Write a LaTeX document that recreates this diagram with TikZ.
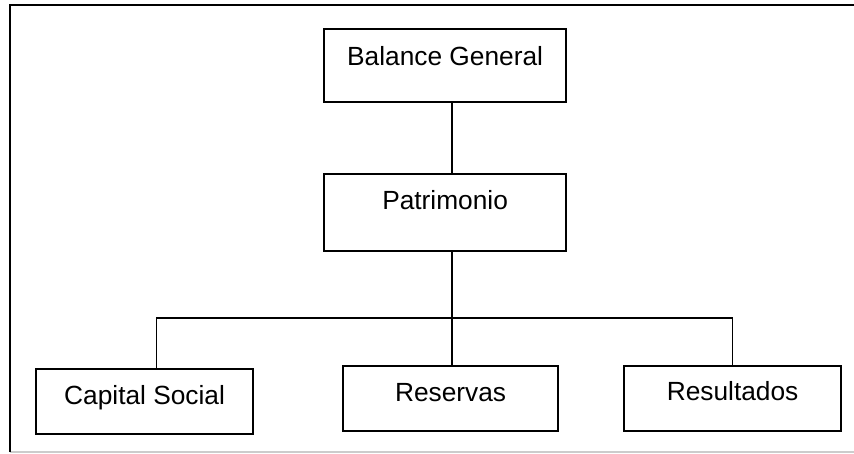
\documentclass[tikz,border=0pt]{standalone}
\usepackage{fontspec}
\setmainfont{Liberation Sans}
\begin{document}
\begin{tikzpicture}[x=1pt,y=-1pt,
  orgbox/.style={draw=black, line width=2.2pt, inner sep=0pt, anchor=north west,
    font=\fontsize{26.3}{30}\selectfont},
  link/.style={draw=black, line width=1.6pt}]
  \useasboundingbox (0,0) rectangle (854,453);
  % frame around the chart
  \draw[black!20, line width=1.4pt] (10,452) -- (854,452);
  \draw[black, line width=2.6pt] (10,452) -- (10,5) -- (854,5);
  % boxes: text height = baseline distance from top, depth = remainder
  \node[orgbox, minimum width=242pt, text height=36pt, text depth=37pt] (bg) at (323,28) {Balance General};
  \node[orgbox, minimum width=242pt, text height=35pt, text depth=42pt] (pat) at (323,173) {Patrimonio};
  \node[orgbox, minimum width=217pt, text height=35pt, text depth=30pt] (cs) at (35,368) {Capital Social};
  \node[orgbox, minimum width=215pt, text height=35.5pt, text depth=29.5pt] (rsv) at (342,364.5) {Reservas};
  \node[orgbox, minimum width=217pt, text height=34.5pt, text depth=30pt] (rst) at (623,365) {Resultados};
  % connectors
  \coordinate (bus) at (451.7,318);
  \draw[link] (bg.south -| bus) -- (pat.north -| bus);
  \draw[link] (pat.south -| bus) -- (rsv.north -| bus);
  \draw[link] ([xshift=11.8pt]cs.north) |- (bus) -| (rst.north);
\end{tikzpicture}
\end{document}
